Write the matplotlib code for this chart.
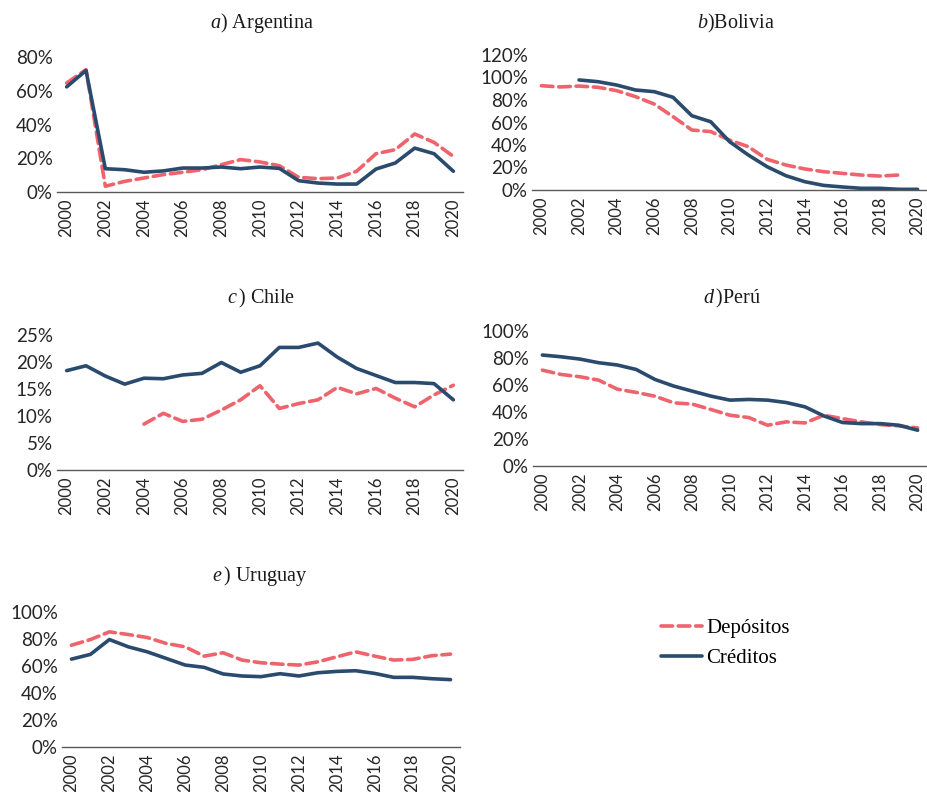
import matplotlib
matplotlib.use("Agg")
import matplotlib.pyplot as plt
from matplotlib.ticker import FuncFormatter, MultipleLocator

plt.rcParams["mathtext.fontset"] = "custom"
plt.rcParams["mathtext.rm"] = "Liberation Serif"
plt.rcParams["mathtext.it"] = "Liberation Serif:italic"

years = list(range(2000, 2021))
year_labels = [str(y) if y % 2 == 0 else "" for y in years]

# Argentina
arg_dep = [64.6, 72.5, 3.4, 6.3, 8.3, 10.3, 11.7, 13.2, 16.2, 19.2, 17.8,
           15.6, 8.7, 7.9, 8.3, 12.3, 22.7, 25.1, 34.4, 29.4, 21.1]
arg_cre = [62.3, 72.0, 13.8, 13.2, 11.7, 12.5, 14.2, 14.2, 14.8, 13.8, 14.8,
           14.0, 6.7, 5.3, 4.7, 4.7, 13.6, 17.2, 26.0, 22.7, 12.3]

# Bolivia (depositos hasta 2019, creditos desde 2002)
bol_dep = [92.7, 91.6, 92.4, 91.3, 88.3, 83.0, 76.4, 65.2, 53.3, 51.9, 44.4,
           38.5, 27.3, 22.2, 18.7, 16.3, 14.8, 13.3, 12.4, 13.3, None]
bol_cre = [None, None, 97.8, 96.3, 93.3, 88.9, 87.4, 82.4, 66.0, 60.7, 43.0,
           31.1, 20.7, 12.7, 7.4, 4.1, 2.7, 1.5, 1.5, 0.6, 0.6]

# Chile (depositos desde 2004)
chi_dep = [None, None, None, None, 8.5, 10.5, 9.0, 9.4, 11.1, 13.0, 15.6,
           11.4, 12.3, 13.0, 15.3, 14.1, 15.1, 13.3, 11.7, 13.9, 15.7]
chi_cre = [18.4, 19.3, 17.4, 15.9, 17.0, 16.9, 17.6, 17.9, 19.9, 18.1, 19.3,
           22.7, 22.7, 23.5, 20.9, 18.8, 17.5, 16.2, 16.2, 16.0, 13.0]

# Peru
per_dep = [71.0, 67.8, 66.1, 63.6, 56.9, 54.5, 51.7, 46.8, 45.8, 41.8, 37.6,
           35.9, 30.2, 32.7, 31.9, 37.6, 35.1, 32.7, 30.7, 29.7, 28.2]
per_cre = [82.2, 80.9, 79.2, 76.5, 74.8, 71.5, 64.1, 59.2, 55.4, 51.7, 48.8,
           49.3, 48.8, 47.0, 43.8, 37.1, 32.2, 31.4, 31.4, 30.2, 26.5]

# Uruguay
uru_dep = [75.4, 79.6, 85.3, 83.3, 81.1, 76.7, 74.2, 67.3, 69.8, 64.4, 62.4,
           61.4, 60.7, 63.1, 66.8, 70.5, 67.3, 64.4, 64.9, 67.6, 68.8]
uru_cre = [65.1, 68.6, 79.6, 74.2, 70.5, 65.6, 60.7, 59.0, 54.1, 52.6, 52.1,
           54.3, 52.6, 55.0, 56.0, 56.5, 54.5, 51.6, 51.6, 50.6, 49.9]

RED = "#EF636D"
NAVY = "#2A4B6E"

W, H = 928, 792
fig = plt.figure(figsize=(W / 100, H / 100), dpi=100)


def px_axes(x0, x1, ytop, ybot):
    return fig.add_axes([x0 / W, 1 - ybot / H, (x1 - x0) / W, (ybot - ytop) / H])


def to_xy(vals):
    xs = [i for i, v in enumerate(vals) if v is not None]
    ys = [v for v in vals if v is not None]
    return xs, ys


panels = [
    # datos, caja en pixeles, ymax, paso, titulo, centro titulo
    (arg_dep, arg_cre, (57, 463, 57, 192), 80, 20, r"$\mathit{a)}$ Argentina", (262, 23)),
    (bol_dep, bol_cre, (532, 927, 55, 190), 120, 20, r"$\mathit{b)}$Bolivia", (736, 23)),
    (chi_dep, chi_cre, (57, 463, 335, 470), 25, 5, r"$\mathit{c\,)}$ Chile", (261, 298)),
    (per_dep, per_cre, (533, 927, 331, 466), 100, 20, r"$\mathit{d\,)}$Perú", (732, 298)),
    (uru_dep, uru_cre, (62, 460, 612, 747), 100, 20, r"$\mathit{e\,)}$ Uruguay", (260, 576)),
]

for dep, cre, box, ymax, step, title, tpos in panels:
    ax = px_axes(*box)
    xs, ys = to_xy(dep)
    ax.plot(xs, ys, color=RED, lw=2.6, dashes=(3.2, 1.6), dash_capstyle="round",
            label="Depósitos")
    xs, ys = to_xy(cre)
    ax.plot(xs, ys, color=NAVY, lw=2.6, solid_capstyle="round", label="Créditos")
    ax.set_xlim(-0.5, len(years) - 0.5)
    ax.set_ylim(0, ymax)
    ax.yaxis.set_major_locator(MultipleLocator(step))
    ax.yaxis.set_major_formatter(FuncFormatter(lambda v, p: f"{v:.0f}%"))
    ax.set_xticks(range(len(years)))
    ax.set_xticklabels(year_labels, rotation=90)
    for s in ("top", "right", "left"):
        ax.spines[s].set_visible(False)
    ax.spines["bottom"].set_color("#595959")
    ax.spines["bottom"].set_linewidth(1.0)
    ax.tick_params(axis="both", length=0, colors="#262626")
    ax.tick_params(axis="y", pad=3, labelsize=13.5)
    ax.tick_params(axis="x", pad=5, labelsize=12)
    for lab in ax.get_xticklabels() + ax.get_yticklabels():
        lab.set_fontfamily("Lato")
    fig.text(tpos[0] / W, 1 - tpos[1] / H, title, ha="center", va="center",
             fontsize=14.5, fontfamily="Liberation Serif", color="#1a1a1a")
    ax.patch.set_alpha(0)
    last_ax = ax

handles, labels = last_ax.get_legend_handles_labels()
fig.legend(handles, labels, loc="center left",
           bbox_to_anchor=(642 / W, 1 - 643 / H), frameon=False,
           prop={"family": "Liberation Serif", "size": 15},
           handlelength=2.0, handletextpad=0.2, labelspacing=0.5)

fig.savefig("out.png", dpi=100, facecolor="white")
